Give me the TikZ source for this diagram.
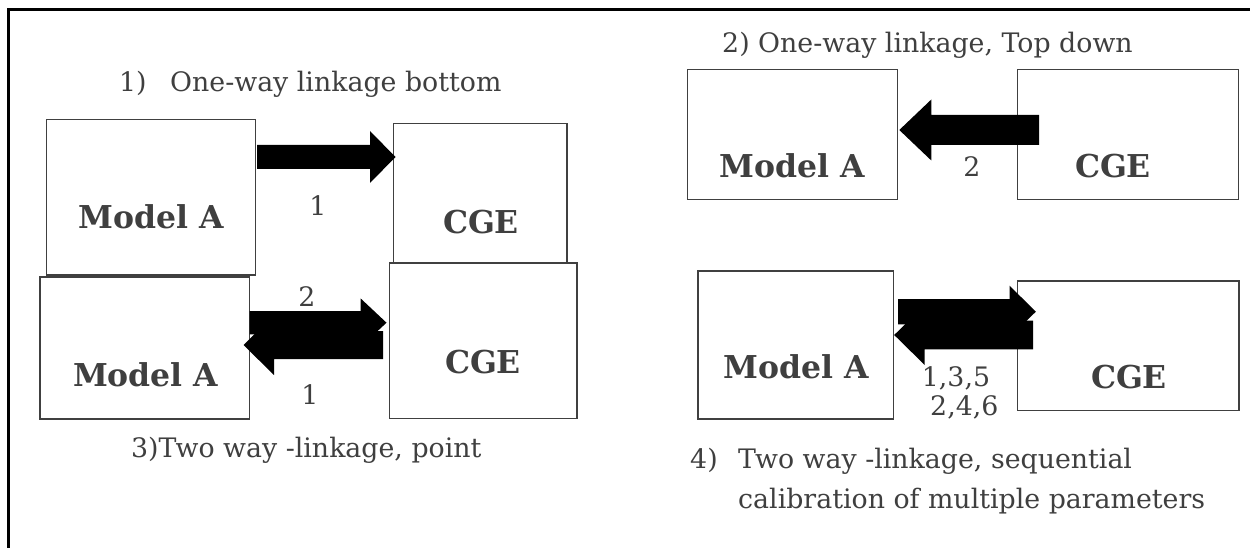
\documentclass[tikz,border=0pt]{standalone}
\usepackage{fontspec}
\setmainfont{DejaVu Serif}
\usetikzlibrary{calc}
\definecolor{txtgray}{HTML}{3F3F3F}
\definecolor{boxgray}{HTML}{404040}
% #1 tail, #2 tip, #3 body half height, #4 head half height, #5 signed head length
\newcommand\blockarrow[5]{%
  \fill[arrowfill] ($(#1)+(0,-#3)$) -- ($(#2)+({-1*(#5)},-#3)$) -- ($(#2)+({-1*(#5)},-#4)$) -- (#2)
    -- ($(#2)+({-1*(#5)},#4)$) -- ($(#2)+({-1*(#5)},#3)$) -- ($(#1)+(0,#3)$) -- cycle;}
\begin{document}
\begin{tikzpicture}[x=1pt,y=-1pt,
  box/.style={draw=boxgray, line width=1.5pt, inner sep=0pt, outer sep=0pt},
  big/.style={font=\fontsize{31.5pt}{36pt}\selectfont\bfseries, text=txtgray, inner sep=0pt},
  lbl/.style={font=\fontsize{26.8pt}{32pt}\selectfont, text=txtgray, inner sep=0pt},
  arrowfill/.style={fill=black},
  frame/.style={draw=black, line width=3pt}]
\useasboundingbox (0,0) rectangle (1250,548);
\fill[white] (0,0) rectangle (1250,548);
% outer frame
\draw[frame] (8,548) -- (8,10) -- (1250,10);

% boxes
\node[box, minimum width=209pt, minimum height=155.5pt] (ma1) at (151,197.25) {};
\node[box, minimum width=173.5pt, minimum height=139.5pt] (cge1) at (480.25,193.25) {};
\node[box, minimum width=209.5pt, minimum height=142pt] (ma2) at (144.75,348) {};
\node[box, minimum width=187.5pt, minimum height=155.5pt] (cge2) at (483.25,340.75) {};
\node[box, minimum width=210pt, minimum height=130pt] (ma3) at (792.5,134.5) {};
\node[box, minimum width=221pt, minimum height=130pt] (cge3) at (1128,134.5) {};
\node[box, minimum width=195.5pt, minimum height=148pt] (ma4) at (795.75,345) {};
\node[box, minimum width=221.5pt, minimum height=129.5pt] (cge4) at (1128.25,345.75) {};

% box texts
\node[big] (ma1t) at (151,216.7) {Model A};
\node[big] (cge1t) at (481,221.7) {CGE};
\node[big] (ma2t) at (145.7,375) {Model A};
\node[big] (cge2t) at (483,361.7) {CGE};
\node[big] (ma3t) at (792.6,165.7) {Model A};
\node[big] (cge3t) at (1113,165.7) {CGE};
\node[big] (ma4t) at (796.4,366.7) {Model A};
\node[big] (cge4t) at (1129,376.7) {CGE};

% arrow end points
\coordinate (a1s) at ($(ma1.east |- 0,157)+(1.5,0)$);
\coordinate (a1t) at ($(cge1.west |- 0,157)+(2,0)$);
\coordinate (a2s) at (ma2.east |- 0,322.7);
\coordinate (a2t) at ($(cge2.west |- 0,322.7)+(-3,0)$);
\coordinate (a3s) at ($(cge2.west |- 0,345)+(-6.5,0)$);
\coordinate (a3t) at ($(ma2.east |- 0,345)+(-6,0)$);
\coordinate (a4s) at ($(cge3.west |- 0,130)+(21.5,0)$);
\coordinate (a4t) at ($(ma3.east |- 0,130)+(1.8,0)$);
\coordinate (a5s) at ($(ma4.east |- 0,311.7)+(4.5,0)$);
\coordinate (a5t) at ($(cge4.west |- 0,311.7)+(18.3,0)$);
\coordinate (a6s) at ($(cge4.west |- 0,335)+(15.5,0)$);
\coordinate (a6t) at ($(ma4.east |- 0,335)+(0.7,0)$);

% block arrows
\blockarrow{a1s}{a1t}{12}{26}{25.5}
\blockarrow{a2s}{a2t}{11.7}{24.4}{26}
\blockarrow{a3s}{a3t}{14}{30}{-30.5}
\blockarrow{a4s}{a4t}{15}{30.5}{-32}
\blockarrow{a5s}{a5t}{12.7}{26}{26.2}
\blockarrow{a6s}{a6t}{14.3}{30}{-30.5}

% arrow labels
\node[lbl, anchor=base] (n1) at (318,215) {1};
\node[lbl, anchor=base] (n2) at (307,306.7) {2};
\node[lbl, anchor=base] (n3) at (310,404) {1};
\node[lbl, anchor=base] (n4) at (972,176.7) {2};
\node[lbl, anchor=base west] (n5) at (921.7,386) {1,3,5};
\node[lbl, anchor=base west] (n6) at (930,415) {2,4,6};

% titles
\node[lbl, anchor=base west] (t1) at (119,92) {\makebox[51pt][l]{1)}One-way linkage bottom};
\node[lbl, anchor=base west] (t2) at (722,53) {2) One-way linkage, Top down};
\node[lbl, anchor=base west] (t3) at (131,457) {3)Two way -linkage, point};
\node[lbl, anchor=base west] (t4a) at (690,468) {\makebox[48pt][l]{4)}Two way -linkage, sequential};
\node[lbl, anchor=base west] (t4b) at (738,508) {calibration of multiple parameters};
\end{tikzpicture}
\end{document}
